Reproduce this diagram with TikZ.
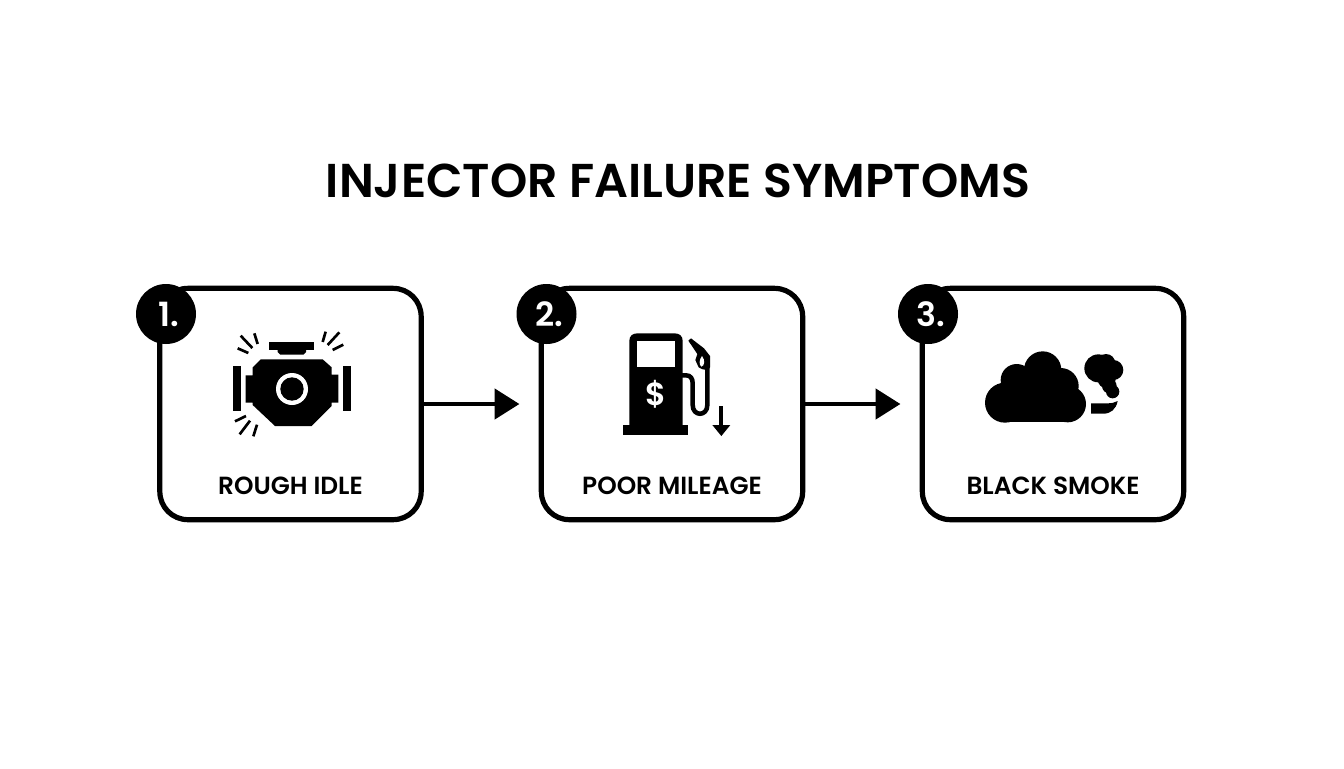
\documentclass[tikz,border=0pt]{standalone}
\usepackage{fontspec}
\setmainfont{Poppins}[BoldFont={Poppins SemiBold}]
\usetikzlibrary{arrows.meta}
\tikzset{
    cardbox/.style={draw, line width=3.9pt, rounded corners=21pt, fill=white, minimum width=196pt, minimum height=173.5pt, inner sep=0pt},
    badge/.style={circle, fill=black, text=white, minimum size=45pt, inner sep=0pt, font=\fontsize{25}{25}\selectfont\bfseries},
    cardlabel/.style={font=\fontsize{18.6}{19}\selectfont\bfseries},
    flow/.style={line width=3pt, -{Triangle[length=18.5pt,width=22.5pt]}, shorten >=14.5pt},
    spark/.style={line width=2pt},
    hose/.style={line width=3.4pt}
}
\begin{document}
\begin{tikzpicture}[x=0.75pt,y=-0.75pt]
    \useasboundingbox (0,0) rectangle (1344,768);

    % Title
    \node[font=\fontsize{35.6}{38}\selectfont\bfseries] (title) at (678,181) {INJECTOR FAILURE SYMPTOMS};

    % Cards
    \foreach \x/\n/\dx/\lab in {290.5/1/-124.5/ROUGH IDLE,672/2/-125.5/POOR MILEAGE,1053/3/-125/BLACK SMOKE} {
        \node[cardbox] (box\n) at (\x,404) {};
        \node[badge] (badge\n) at (\x+\dx,314) {\kern4pt\n.};
        \node[cardlabel] (label\n) at (\x,486) {\lab};
    }

    % Arrows
    \draw[flow] (box1) -- (box2);
    \draw[flow] (box2) -- (box3);

    % Engine
    \begin{scope}[shift={(130,280)},scale=1/3]
        \fill (392,238) -- (578,238) -- (605,262) -- (605,284) -- (625,284) -- (625,368) -- (605,368) -- (605,378)
            -- (545,438) -- (435,438) -- (368,375) -- (368,368) -- (347,368) -- (347,286) -- (368,286) -- (368,262) -- cycle;
        \fill[white] (486,327) circle (48);
        \fill (486,327) circle (35);
        \fill (418,186) rectangle (553,209);
        \fill (443,209) -- (528,209) -- (528,216) -- (520,224) -- (451,224) -- (443,216) -- cycle;
        \fill (308,257) rectangle (333,392);
        \fill (638,257) rectangle (663,392);
        \draw[spark] (332,167) -- (367,204);
        \draw[spark] (373,160) -- (383,192);
        \draw[spark] (323,205) -- (355,219);
        \draw[spark] (587,155) -- (578,186);
        \draw[spark] (628,157) -- (593,195);
        \draw[spark] (640,194) -- (608,210);
        \draw[spark] (348,408) -- (315,424);
        \draw[spark] (360,422) -- (329,463);
        \draw[spark] (381,434) -- (370,469);
    \end{scope}

    % Fuel pump
    \begin{scope}[shift={(510,280)},scale=1/3]
        \fill (358,440) -- (358,182) .. controls (358,168) and (368,160) .. (382,160) -- (494,160)
            .. controls (508,160) and (518,168) .. (518,182) -- (518,440) -- cycle;
        \fill (340,435) rectangle (535,464);
        \fill[white] (380,183) rectangle (494,260);
        \node[text=white, font=\fontsize{24}{24}\selectfont\bfseries] (dollar) at (437,342) {\$};
        \draw[hose] (515,286) -- (528,286) .. controls (542,286) and (548,296) .. (548,310) -- (548,375)
            .. controls (548,410) and (592,410) .. (592,375) -- (592,260);
        \fill (535,182) -- (543,175) -- (582,205) -- (600,228) -- (600,262) .. controls (598,272) and (580,272) .. (566,262)
            -- (556,240) -- (562,222) -- cycle;
        \fill[white] (576,228) .. controls (586,240) and (584,258) .. (574,260) .. controls (566,254) and (568,238) .. (576,228) -- cycle;
        \draw[line width=3pt] (634,378) -- (634,440);
        \fill (607,435) -- (661,435) -- (634,468) -- cycle;
    \end{scope}

    % Smoke
    \begin{scope}[shift={(890,280)},scale=1/3]
        \fill (345,368) circle (60);
        \fill (380,300) circle (48);
        \fill (458,270) circle (56);
        \fill (512,318) circle (54);
        \fill (533,372) circle (55);
        \fill (345,330) rectangle (535,427);
        \fill (380,300) rectangle (515,340);
        \fill (625,265) circle (42);
        \fill (648,250) circle (28);
        \fill (670,270) circle (30);
        \fill (650,298) circle (27);
        \fill (658,318) circle (22);
        \fill (668,335) circle (20);
        \fill (603,370) -- (650,370) .. controls (665,370) and (675,368) .. (683,363)
            .. controls (678,388) and (662,401) .. (640,401) -- (603,401) -- cycle;
    \end{scope}

\end{tikzpicture}
\end{document}
